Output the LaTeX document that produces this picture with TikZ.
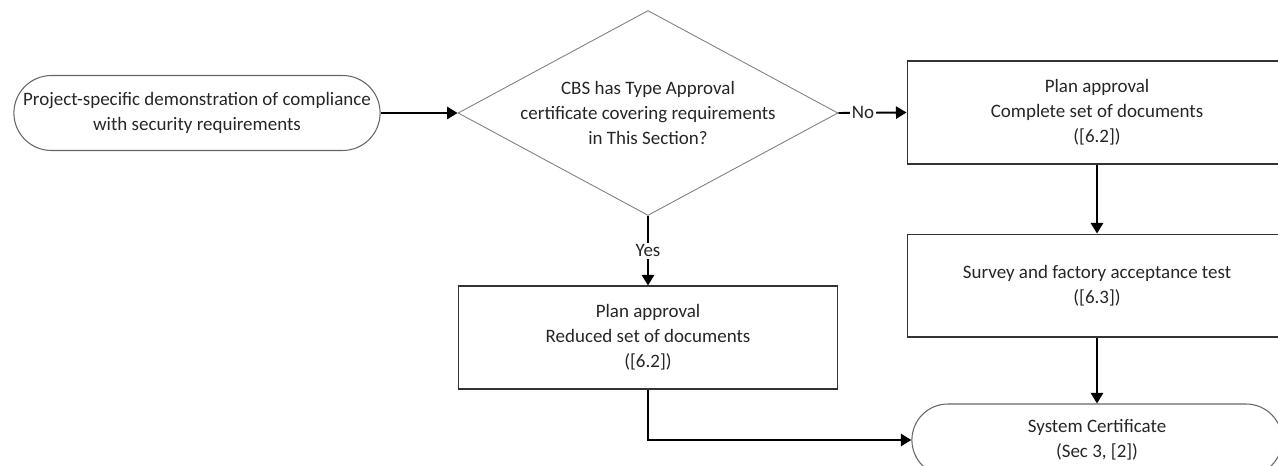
\documentclass[tikz,border=0pt]{standalone}
\usepackage{fontspec}
\setmainfont{Carlito}
\usetikzlibrary{arrows.meta,positioning,shapes.geometric,shapes.misc}

\begin{document}
\begin{tikzpicture}[x=0.02cm, y=-0.02cm, >={Triangle[length=6pt,width=7pt]},
  every node/.style={font=\fontsize{10.8}{14.2}\selectfont, align=center, text=black!85},
  box/.style={draw=black!80, line width=0.6pt, minimum width=7.6cm, minimum height=2.06cm},
  term/.style={draw=black!60, line width=0.6pt, rounded rectangle, minimum width=7.56cm, minimum height=1.5cm},
  decision/.style={draw=black!50, line width=0.5pt, diamond, inner sep=0pt, minimum width=7.6cm, minimum height=4.1cm},
  flow/.style={->, line width=1.1pt},
  lbl/.style={fill=white, inner sep=1pt}]
  \useasboundingbox (0,0) rectangle (1278,466);
  \clip (0,0) rectangle (1278,466);

  % Nodes
  \node[term] (start) at (197,113)
        {Project-specific demonstration of compliance\\with security requirements};
  \node[decision] (dec) at (648,113) {};
  \node (dectext) at (dec.center)
        {CBS has Type Approval\\certificate covering requirements\\in This Section?};
  \node[box] (complete) at (1097,112.5)
        {Plan approval\\Complete set of documents\\([6.2])};
  \node[box, below=1.38cm of complete] (survey)
        {Survey and factory acceptance test\\([6.3])};
  \node[box] (reduced) at (648,337.5)
        {Plan approval\\Reduced set of documents\\([6.2])};
  \node[term, minimum width=7.64cm, minimum height=1.44cm] (cert) at (1097,440)
        {System Certificate\\(Sec 3, [2])};

  % Connectors
  \draw[flow] (start.east) -- (dec.west);
  \draw[flow] (dec.east) -- node[lbl, pos=0.36] {No} (complete.west);
  \draw[flow] (complete.south) -- (survey.north);
  \draw[flow] (survey.south) -- (cert.north);
  \draw[flow] (dec.south) -- node[lbl] {Yes} (reduced.north);
  \draw[flow] (reduced.south) |- (cert.west);
\end{tikzpicture}
\end{document}
